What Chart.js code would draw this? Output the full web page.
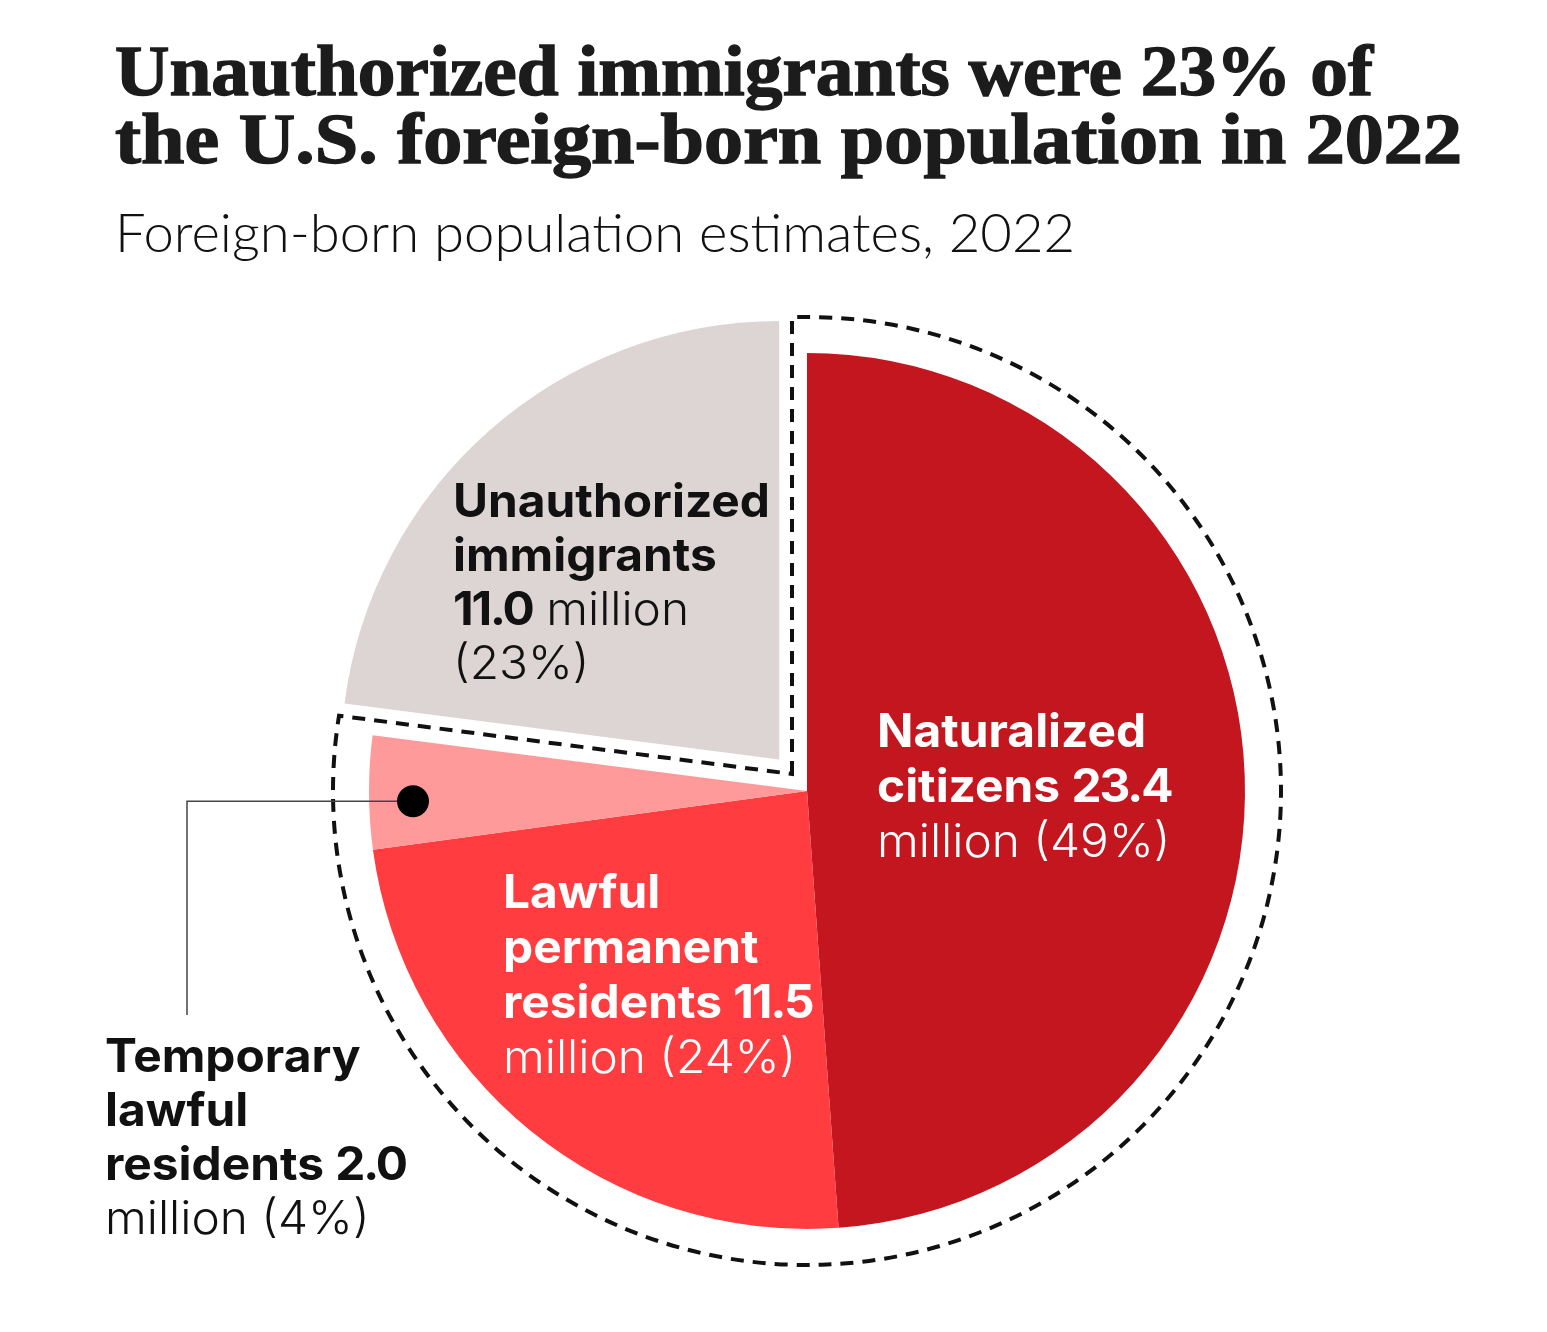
<!DOCTYPE html>
<html>
<head>
<meta charset="utf-8">
<script src="https://cdn.jsdelivr.net/npm/chart.js@4.4.1/dist/chart.umd.min.js"></script>
<style>
  html, body { margin: 0; padding: 0; background: #fff; }
  body { width: 1547px; height: 1332px; position: relative; overflow: hidden; }
  .fit { position: absolute; left: 115px; white-space: nowrap; transform-origin: 0 0; }
  .title { font-family: "Liberation Serif", serif; font-weight: 700; font-size: 71px; line-height: 71px; color: #1c1c1c; -webkit-text-stroke: 1.4px #1c1c1c; }
  .subtitle { font-family: "Lato", sans-serif; font-weight: 300; font-size: 53px; line-height: 53px; color: #111; }
  #wrap { position: absolute; left: 0; top: 0; width: 1547px; height: 1332px; }
</style>
</head>
<body>
<div class="fit title" data-w="1258" style="top:36px">Unauthorized immigrants were 23% of</div>
<div class="fit title" data-w="1347" style="top:104px">the U.S. foreign-born population in 2022</div>
<div class="fit subtitle" data-w="960" style="top:205px">Foreign-born population estimates, 2022</div>
<div id="wrap"><canvas id="pieChart"></canvas></div>
<script>
// data, in millions, 2022
const categories = ['Naturalized citizens', 'Lawful permanent residents', 'Temporary lawful residents', 'Unauthorized immigrants'];
const populations = [23.4, 11.5, 2.0, 11.0];
const shares = [49, 24, 4, 23];
const sliceColors = ['#c4161e', '#ff3c40', '#ff9a9a', '#ddd4d4'];

// squeeze the headings to the widths of the original
document.querySelectorAll('.fit').forEach(el => {
    const w = el.getBoundingClientRect().width;
    el.style.transform = 'scaleX(' + (el.dataset.w / w) + ')';
});

const BOLD = '700 46px Inter';
const LIGHT = '300 46px Inter';

const num = i => populations[i].toFixed(1);
const pct = i => '(' + shares[i] + '%)';

// label blocks: offset of the first baseline from the pie centre, line gap, runs per line
const labelBlocks = [
    { dx: 70, dy: -44, gap: 55, color: '#fff', lines: [
        [['b', 'Naturalized']],
        [['b', 'citizens '], ['n', num(0)]],
        [['r', 'million ' + pct(0)]]
    ]},
    { dx: -304, dy: 117, gap: 55, color: '#fff', lines: [
        [['b', 'Lawful']],
        [['b', 'permanent']],
        [['b', 'residents '], ['n', num(1)]],
        [['r', 'million ' + pct(1)]]
    ]},
    { dx: -702, dy: 281, gap: 54, color: '#111', lines: [
        [['b', 'Temporary']],
        [['b', 'lawful']],
        [['b', 'residents '], ['n', num(2)]],
        [['r', 'million ' + pct(2)]]
    ]},
    { dx: -354, dy: -274, gap: 54, color: '#111', lines: [
        [['b', 'Unauthorized']],
        [['b', 'immigrants']],
        [['n', num(3)], ['r', ' million']],
        [['r', pct(3)]]
    ]}
];

function drawRuns(ctx, x, y, runs, k) {
    ctx.save();
    ctx.translate(x, y);
    ctx.scale(k, 1);
    let pos = 0;
    runs.forEach(([w, s]) => {
        ctx.font = w === 'r' ? LIGHT : BOLD;
        ctx.letterSpacing = w === 'n' ? '-2px' : '0px';
        ctx.fillText(s, pos, 0);
        pos += ctx.measureText(s).width;
    });
    ctx.restore();
}

// dashed outline around the three lawful groups
const lawfulOutline = {
    id: 'lawfulOutline',
    afterDatasetsDraw(chart) {
        const ctx = chart.ctx;
        const arcs = chart.getDatasetMeta(0).data;
        const cx = arcs[0].x, cy = arcs[0].y;
        const a0 = arcs[0].startAngle, a1 = arcs[2].endAngle;
        const R = arcs[0].outerRadius + 36, d = 15;
        const u0 = [Math.cos(a0), Math.sin(a0)], n0 = [Math.sin(a0), -Math.cos(a0)];
        const u1 = [Math.cos(a1), Math.sin(a1)], n1 = [-Math.sin(a1), Math.cos(a1)];
        const det = n0[0] * n1[1] - n0[1] * n1[0];
        const s = [(d * n1[1] - n0[1] * d) / det, (n0[0] * d - d * n1[0]) / det];
        const hit = u => {
            const su = s[0] * u[0] + s[1] * u[1];
            const t = -su + Math.sqrt(su * su - (s[0] * s[0] + s[1] * s[1]) + R * R);
            return [s[0] + t * u[0], s[1] + t * u[1]];
        };
        const q0 = hit(u0), q1 = hit(u1);
        const b0 = Math.atan2(q0[1], q0[0]), b1 = Math.atan2(q1[1], q1[0]);

        ctx.save();
        ctx.strokeStyle = '#111';
        ctx.lineWidth = 4;
        ctx.setLineDash([13, 9]);
        ctx.beginPath();
        ctx.moveTo(cx + s[0], cy + s[1]);
        ctx.lineTo(cx + q0[0], cy + q0[1]);
        ctx.arc(cx, cy, R, b0, b1, false);
        ctx.closePath();
        ctx.stroke();
        ctx.restore();
    }
};

// slice labels plus the leader for the small slice
const sliceLabels = {
    id: 'sliceLabels',
    afterDraw(chart) {
        const ctx = chart.ctx;
        const arcs = chart.getDatasetMeta(0).data;
        const cx = arcs[0].x, cy = arcs[0].y;

        const t = arcs[2];
        const mid = (t.startAngle + t.endAngle) / 2;
        const px = cx + Math.cos(mid) * 394, py = cy + Math.sin(mid) * 394 + 9;
        ctx.save();
        ctx.strokeStyle = '#444';
        ctx.lineWidth = 1.5;
        ctx.beginPath();
        ctx.moveTo(px, py);
        ctx.lineTo(cx - 620, py);
        ctx.lineTo(cx - 620, cy + 224);
        ctx.stroke();
        ctx.fillStyle = '#000';
        ctx.beginPath();
        ctx.arc(px, py, 16, 0, Math.PI * 2);
        ctx.fill();
        ctx.restore();

        ctx.save();
        ctx.font = BOLD;
        ctx.letterSpacing = '0px';
        const k = 317 / ctx.measureText('Unauthorized').width;
        ctx.textBaseline = 'alphabetic';
        labelBlocks.forEach(b => {
            ctx.fillStyle = b.color;
            b.lines.forEach((runs, i) => drawRuns(ctx, cx + b.dx, cy + b.dy + i * b.gap, runs, k));
        });
        ctx.restore();
    }
};

const ctx = document.getElementById('pieChart').getContext('2d');
const pieChart = new Chart(ctx, {
    type: 'pie',
    data: {
        labels: categories,
        datasets: [{
            data: populations,
            backgroundColor: sliceColors,
            borderWidth: 0,
            // chart.js moves an arc by a quarter of its offset
            offset: [0, 0, 0, 168]
        }]
    },
    options: {
        responsive: true,
        maintainAspectRatio: false,
        animation: false,
        radius: 438,
        layout: {
            padding: { left: 100, right: 33, top: 280, bottom: 30 }
        },
        plugins: {
            legend: { display: false },
            tooltip: { enabled: false }
        }
    },
    plugins: [lawfulOutline, sliceLabels]
});
</script>
</body>
</html>
